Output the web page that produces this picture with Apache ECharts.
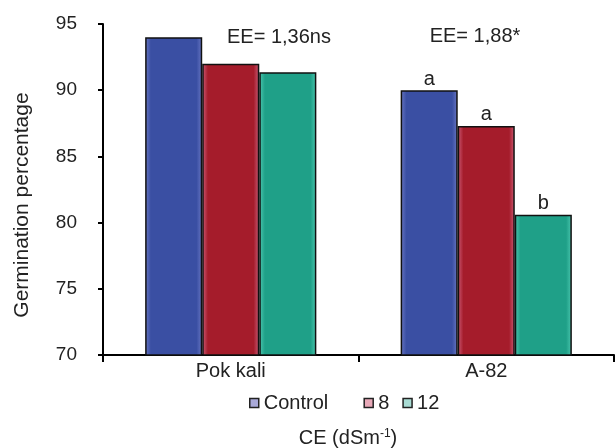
<!DOCTYPE html>
<html>
<head>
<meta charset="utf-8">
<script src="https://cdn.jsdelivr.net/npm/echarts@6/dist/echarts.min.js"></script>
<style>html,body{margin:0;padding:0;background:#fff}#c{width:615px;height:448px}</style>
</head>
<body>
<div id="c"></div>
<script>
var categories = ['Pok kali', 'A-82'];
var seriesNames = ['Control', '8', '12'];
var controlValues = [94.0, 90.0];
var ec8Values = [92.0, 87.3];
var ec12Values = [91.35, 80.6];
var controlLetters = ['', 'a'];
var ec8Letters = ['', 'a'];
var ec12Letters = ['', 'b'];
var yTicks = [70, 75, 80, 85, 90, 95];

var font = 'Liberation Sans, Arial, sans-serif';
function grad(edge, main) {
  return new echarts.graphic.LinearGradient(0, 0, 1, 0, [
    {offset: 0, color: edge}, {offset: 0.1, color: main},
    {offset: 0.9, color: main}, {offset: 1, color: edge}
  ]);
}
function mk(name, data, letters, edge, main) {
  return {
    name: name, type: 'bar', data: data, barGap: '0%', barCategoryGap: '33%',
    itemStyle: {color: grad(edge, main), borderColor: '#111', borderWidth: 1.5},
    label: {show: true, position: 'top', distance: 1, fontFamily: font, fontSize: 20, color: '#222',
      formatter: function (p) { return letters[p.dataIndex]; }}
  };
}
var chart = echarts.init(document.getElementById('c'));
chart.setOption({
  animation: false,
  grid: {left: 103, right: 1, top: 24, bottom: 93},
  legend: {
    left: 244, top: 388, itemWidth: 9, itemHeight: 9, itemGap: 13, icon: 'rect',
    textStyle: {fontFamily: font, fontSize: 20, color: '#222'},
    formatter: function (n) { return n === 'Control' ? n + '    ' : n; },
    data: [
      {name: 'Control', itemStyle: {color: '#a9a9d8', borderColor: '#222', borderWidth: 1.5}},
      {name: '8', itemStyle: {color: '#e8a9b8', borderColor: '#222', borderWidth: 1.5}},
      {name: '12', itemStyle: {color: '#a9dcd4', borderColor: '#222', borderWidth: 1.5}}
    ]
  },
  xAxis: {
    type: 'category', data: categories,
    axisLine: {lineStyle: {color: '#000', width: 2}},
    axisTick: {show: true, length: 7, lineStyle: {color: '#000', width: 2}},
    axisLabel: {margin: 6, fontFamily: font, fontSize: 20, color: '#222'}
  },
  yAxis: {
    type: 'value', min: 70, max: 95, interval: 5,
    splitLine: {show: false},
    axisLine: {show: true, lineStyle: {color: '#000', width: 2}},
    axisTick: {show: true, length: 5, lineStyle: {color: '#000', width: 2}},
    axisLabel: {margin: 26, fontFamily: font, fontSize: 19, color: '#222',
      formatter: function (v) { return yTicks.indexOf(v) >= 0 ? String(v) : ''; }}
  },
  series: [
    mk(seriesNames[0], controlValues, controlLetters, '#6a78c4', '#3a4fa3'),
    mk(seriesNames[1], ec8Values, ec8Letters, '#cc5c78', '#a51c2b'),
    mk(seriesNames[2], ec12Values, ec12Letters, '#4cc8b0', '#1fa088')
  ],
  graphic: [
    {type: 'text', x: 22, y: 205, rotation: Math.PI / 2,
      style: {text: 'Germination percentage', font: '21px ' + font, fill: '#222', align: 'center', verticalAlign: 'middle'}},
    {type: 'text', x: 279, y: 37,
      style: {text: 'EE= 1,36ns', font: '20px ' + font, fill: '#222', align: 'center', verticalAlign: 'middle'}},
    {type: 'text', x: 475, y: 36,
      style: {text: 'EE= 1,88*', font: '20px ' + font, fill: '#222', align: 'center', verticalAlign: 'middle'}},
    {type: 'text', x: 348, y: 438,
      style: {text: '{n|CE (dSm}{s|-1}{n|)}', align: 'center', verticalAlign: 'middle',
        rich: {n: {font: '20px ' + font, fill: '#222', color: '#222'},
               s: {font: '12px ' + font, fill: '#222', color: '#222', verticalAlign: 'top', padding: [0, 0, 8, 0]}}}}
  ]
});
</script>
</body>
</html>
